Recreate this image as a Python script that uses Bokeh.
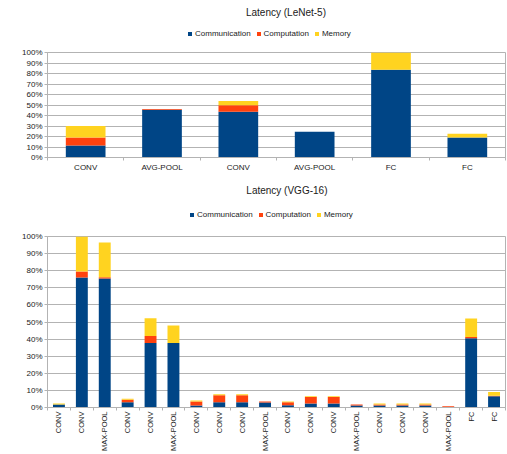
from bokeh.plotting import figure
from bokeh.layouts import column
from bokeh.models import (ColumnDataSource, Range1d, FixedTicker, PrintfTickFormatter,
                          Legend, LegendItem)
from bokeh.core.properties import value
from bokeh.embed import file_html
from bokeh.resources import INLINE

# LeNet-5 layers: share of latency (%) per component
lenet_layers = ["CONV", "AVG-POOL", "CONV", "AVG-POOL", "FC", "FC"]
lenet_comm = [11.5, 45.5, 43.5, 24.5, 83.5, 19.0]
lenet_comp = [7.5, 0.7, 6.3, 0.0, 0.0, 0.0]
lenet_mem = [11.0, 0.0, 4.0, 0.0, 16.5, 3.7]

# VGG-16 layers: share of latency (%) per component
vgg_layers = ["CONV", "CONV", "MAX-POOL", "CONV", "CONV", "MAX-POOL",
              "CONV", "CONV", "CONV", "MAX-POOL", "CONV", "CONV", "CONV",
              "MAX-POOL", "CONV", "CONV", "CONV", "MAX-POOL", "FC", "FC"]
vgg_comm = [1.8, 76.0, 75.5, 3.0, 37.7, 37.7, 1.2, 3.0, 3.0, 2.9,
            1.3, 2.3, 2.3, 1.2, 1.2, 1.2, 1.2, 0.0, 40.5, 6.6]
vgg_comp = [0.0, 3.5, 0.7, 1.6, 4.1, 0.0, 2.3, 4.2, 4.2, 0.6,
            1.8, 3.9, 3.9, 0.5, 0.5, 0.5, 0.5, 0.8, 0.7, 0.2]
vgg_mem = [0.5, 20.5, 20.3, 0.5, 10.4, 10.3, 0.6, 0.5, 0.5, 0.0,
           0.4, 0.4, 0.4, 0.0, 0.6, 0.6, 0.6, 0.0, 10.9, 2.2]

series = ["Communication", "Computation", "Memory"]
colors = ["#004586", "#ff420e", "#ffd320"]
pct_ticks = list(range(0, 101, 10))

FONT = "Liberation Sans"
GRID = "#b3b3b3"
TEXT = "#1a1a1a"
WIDTH = 507


def header(title, height, title_x, title_y, legend_xy):
    """Title line plus horizontal key, drawn in pixel coordinates."""
    h = figure(width=WIDTH, height=height, output_backend="svg", toolbar_location=None,
               x_range=Range1d(0, WIDTH), y_range=Range1d(0, height),
               min_border=0, min_border_left=0, min_border_right=0,
               min_border_top=0, min_border_bottom=0)
    h.axis.visible = False
    h.grid.visible = False
    h.outline_line_color = None
    h.text(x=[title_x], y=[title_y], text=[title], text_font=value(FONT),
           text_font_size="10px", text_color=TEXT, text_align="center",
           text_baseline="middle")
    # zero-size bars that only lend their colours to the key swatches
    keys = [h.vbar(x=[0], top=[0], width=0, color=c, line_color=None) for c in colors]
    h.add_layout(Legend(items=[LegendItem(label=s, renderers=[r]) for s, r in zip(series, keys)],
                        orientation="horizontal", location=legend_xy,
                        label_text_font=FONT, label_text_font_size="8px",
                        label_text_color=TEXT, glyph_width=5, glyph_height=5,
                        label_standoff=3, spacing=5, padding=0, margin=0,
                        label_height=8, background_fill_alpha=0, border_line_color=None),
                 "center")
    return h


def latency_chart(layers, comm, comp, mem, height, border_left, border_top,
                  border_bottom, rotate):
    n = len(layers)
    xs = list(range(n))
    src = ColumnDataSource(dict(x=xs, Communication=comm, Computation=comp, Memory=mem))
    p = figure(width=WIDTH, height=height, output_backend="svg", toolbar_location=None,
               x_range=Range1d(-0.5, n - 0.5), y_range=Range1d(0, 100),
               min_border_left=border_left, min_border_right=2,
               min_border_top=border_top, min_border_bottom=border_bottom)
    p.vbar_stack(series, x="x", width=0.52, color=colors, line_color=None, source=src)

    p.outline_line_color = GRID
    p.xgrid.visible = False
    p.ygrid.ticker = FixedTicker(ticks=pct_ticks)
    p.ygrid.grid_line_color = GRID

    p.yaxis.ticker = FixedTicker(ticks=pct_ticks)
    p.yaxis.formatter = PrintfTickFormatter(format="%d%%")
    p.yaxis.axis_line_color = GRID
    p.yaxis.major_tick_line_color = GRID
    p.yaxis.major_tick_in = 0
    p.yaxis.major_tick_out = 3
    p.yaxis.minor_tick_line_color = None
    p.yaxis.major_label_standoff = 2
    p.yaxis.major_label_text_font_size = "8px"

    # category separators as minor ticks, layer names on the centres
    p.xaxis.ticker = FixedTicker(ticks=xs, minor_ticks=[i - 0.5 for i in range(n + 1)])
    p.xaxis.major_label_overrides = {i: lab for i, lab in enumerate(layers)}
    p.xaxis.axis_line_color = GRID
    p.xaxis.major_tick_line_color = None
    p.xaxis.major_tick_in = 0
    p.xaxis.major_tick_out = 0
    p.xaxis.minor_tick_line_color = GRID
    p.xaxis.minor_tick_in = 0
    p.xaxis.minor_tick_out = 3
    if rotate:
        p.xaxis.major_label_orientation = 1.5707963
        p.xaxis.major_label_standoff = 1
        p.xaxis.major_label_text_font_size = "7.5px"
    else:
        p.xaxis.major_label_standoff = 2
        p.xaxis.major_label_text_font_size = "8px"

    for ax in (p.xaxis[0], p.yaxis[0]):
        ax.major_label_text_font = FONT
        ax.major_label_text_color = TEXT
    return p


top_head = header("Latency (LeNet-5)", 44, 264, 32, (140, 6))
top = latency_chart(lenet_layers, lenet_comm, lenet_comp, lenet_mem, 130, 40, 8, 16, False)
bottom_head = header("Latency (VGG-16)", 54, 265, 38, (142, 9))
bottom = latency_chart(vgg_layers, vgg_comm, vgg_comp, vgg_mem, 226, 47, 8, 47, True)

page = column(top_head, top, bottom_head, bottom, spacing=0)
open("out.html", "w").write(file_html(page, INLINE))
